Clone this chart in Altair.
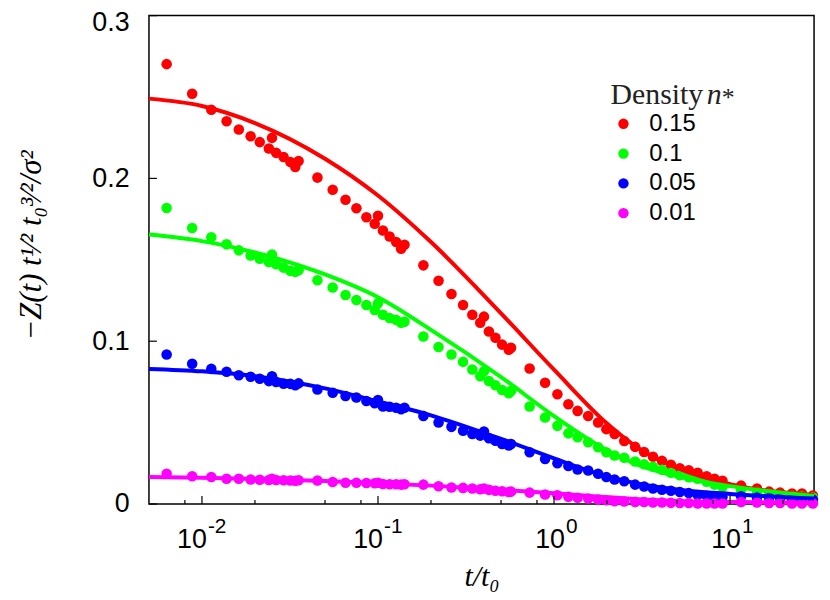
import altair as alt
import pandas as pd

# ---------------- data ----------------
densities = ["0.15", "0.1", "0.05", "0.01"]
colors = ["#ff0000", "#00ff00", "#0000ff", "#ff00ff"]

# simulation points (shared time grid)
t_sim = [0.0063, 0.0088, 0.0113, 0.0138, 0.0162, 0.0189, 0.0213, 0.0240, 0.0250, 0.0264,
         0.0291, 0.0318, 0.0339, 0.0354, 0.0453, 0.0553, 0.0654, 0.0754, 0.0859, 0.0958,
         0.100, 0.1067, 0.1164, 0.1268, 0.1353, 0.1414, 0.1811, 0.2208, 0.2615, 0.3043,
         0.3434, 0.3809, 0.400, 0.4266, 0.4647, 0.5070, 0.5532, 0.5700, 0.7266, 0.8896,
         1.045, 1.206, 1.361, 1.563, 1.780, 1.982, 2.208, 2.505, 2.889, 3.248,
         3.650, 4.104, 4.611, 5.184, 5.828, 6.548, 7.361, 8.166, 9.06, 11.55,
         14.22, 16.68, 19.24, 22.49, 25.61, 29.54]

z_sim_015 = [0.2702, 0.2520, 0.2422, 0.2351, 0.2300, 0.2259, 0.2223, 0.2184, 0.2249, 0.2157,
             0.2131, 0.2101, 0.2070, 0.2107, 0.2005, 0.1930, 0.1869, 0.1817, 0.1761, 0.1721,
             0.1771, 0.1680, 0.1643, 0.1609, 0.1568, 0.1593, 0.1466, 0.1371, 0.1290, 0.1223,
             0.1162, 0.1113, 0.1151, 0.1060, 0.1021, 0.0979, 0.0948, 0.0960, 0.0832, 0.0745,
             0.0674, 0.0613, 0.0572, 0.0541, 0.0501, 0.0460, 0.0430, 0.0387, 0.0351, 0.0320,
             0.0290, 0.0265, 0.0241, 0.0220, 0.0207, 0.0192, 0.0171, 0.0155, 0.0143, 0.0113,
             0.0095, 0.0076, 0.0070, 0.0064, 0.0064, 0.0052]

z_sim_010 = [0.1818, 0.1696, 0.1639, 0.1595, 0.1558, 0.1527, 0.1507, 0.1487, 0.1532, 0.1473,
             0.1452, 0.1432, 0.1426, 0.1436, 0.1375, 0.1330, 0.1284, 0.1253, 0.1223, 0.1192,
             0.1233, 0.1162, 0.1143, 0.1131, 0.1113, 0.1119, 0.1029, 0.0965, 0.0918, 0.0873,
             0.0826, 0.0785, 0.0816, 0.0755, 0.0730, 0.0700, 0.0680, 0.0694, 0.0599, 0.0532,
             0.0480, 0.0434, 0.0410, 0.0379, 0.0349, 0.0318, 0.0298, 0.0284, 0.0261, 0.0244,
             0.0229, 0.0210, 0.0192, 0.0177, 0.0165, 0.0155, 0.0137, 0.0119, 0.0104, 0.0084,
             0.0074, 0.0061, 0.0055, 0.0049, 0.0046, 0.0040]

z_sim_005 = [0.0918, 0.0861, 0.0830, 0.0812, 0.0791, 0.0782, 0.0770, 0.0755, 0.0785, 0.0749,
             0.0739, 0.0738, 0.0729, 0.0741, 0.0704, 0.0684, 0.0663, 0.0654, 0.0633, 0.0619,
             0.0639, 0.0599, 0.0598, 0.0591, 0.0582, 0.0591, 0.0541, 0.0501, 0.0474, 0.0450,
             0.0430, 0.0420, 0.0446, 0.0404, 0.0389, 0.0369, 0.0359, 0.0369, 0.0318, 0.0277,
             0.0251, 0.0233, 0.0212, 0.0206, 0.0186, 0.0166, 0.0151, 0.0140, 0.0119, 0.0107,
             0.0095, 0.0088, 0.0082, 0.0074, 0.0067, 0.0055, 0.0050, 0.0046, 0.0044, 0.0048,
             0.0040, 0.0037, 0.0034, 0.0030, 0.0030, 0.0027]

z_sim_001 = [0.0186, 0.0170, 0.0166, 0.0155, 0.0155, 0.0151, 0.0149, 0.0148, 0.0155, 0.0148,
             0.0146, 0.0145, 0.0143, 0.0146, 0.0145, 0.0135, 0.0131, 0.0131, 0.0129, 0.0127,
             0.0131, 0.0123, 0.0122, 0.0121, 0.0119, 0.0122, 0.0119, 0.0109, 0.0101, 0.0099,
             0.0095, 0.0091, 0.0095, 0.0087, 0.0082, 0.0078, 0.0074, 0.0076, 0.0070, 0.0058,
             0.0054, 0.0044, 0.0038, 0.0034, 0.0027, 0.0023, 0.0017, 0.0015, 0.0013, 0.0012,
             0.0009, 0.0009, 0.0007, 0.0006, 0.0006, 0.0003, 0.0003, 0.0003, 0.0003, 0.0012,
             0.0009, 0.0006, 0.0006, 0.0003, 0.0003, 0.0003]

# theory curves (read at a common set of times)
t_fit = [0.005, 0.01, 0.02, 0.05, 0.1, 0.2, 0.5, 1, 2, 3, 5, 10, 30]
z_fit_015 = [0.2490, 0.2445, 0.2340, 0.2121, 0.1895, 0.1609, 0.1171, 0.0825, 0.0494,
             0.0344, 0.0222, 0.0122, 0.0055]
z_fit_010 = [0.1655, 0.1615, 0.1545, 0.1410, 0.1270, 0.1070, 0.0780, 0.0540, 0.0330,
             0.0240, 0.0170, 0.0110, 0.0050]
z_fit_005 = [0.0830, 0.0815, 0.0785, 0.0710, 0.0630, 0.0545, 0.0400, 0.0280, 0.0170,
             0.0125, 0.0090, 0.0062, 0.0034]
z_fit_001 = [0.0166, 0.0161, 0.0154, 0.0142, 0.0128, 0.0113, 0.0088, 0.0066, 0.0042,
             0.0030, 0.0019, 0.0012, 0.0008]

x_major = [0.01, 0.1, 1, 10]
x_exps = ["-2", "-1", "0", "1"]
x_minor = [0.008, 0.02, 0.05, 0.08, 0.2, 0.5, 0.8, 2, 5, 8, 20]
y_ticks = [0, 0.1, 0.2, 0.3]

# ---------------- build ----------------
W, H = 670, 492

sim_series = [z_sim_015, z_sim_010, z_sim_005, z_sim_001]
fit_series = [z_fit_015, z_fit_010, z_fit_005, z_fit_001]

rows = []
for d, zs in zip(densities, sim_series):
    for t, z in zip(t_sim, zs):
        rows.append({"t": t, "z": z, "density": d})
pts = pd.DataFrame(rows)

rows = []
for k, (d, zs) in enumerate(zip(densities, fit_series)):
    for t, z in zip(t_fit, zs):
        rows.append({"t": t, "z": z, "density": d, "k": k})
fit = pd.DataFrame(rows)

xscale = alt.Scale(type="log", domain=[0.005, 30], nice=False)
yscale = alt.Scale(domain=[0, 0.3], nice=False, zero=False)
cscale = alt.Scale(domain=densities, range=colors)

x_axis = alt.Axis(title="t/t₀", labels=False, ticks=False, tickSize=0, domain=False, grid=False,
                  titleY=82, titleBaseline="alphabetic")
y_axis = alt.Axis(values=y_ticks, ticks=False, tickSize=0, domain=False, grid=False,
                  labelExpr="datum.value == 0 ? '0' : format(datum.value, '.1f')",
                  labelPadding=20, labelFlush=False, labelOverlap=False,
                  labelOffset={"condition": {"test": "datum.value >= 0.29", "value": 7},
                               "value": 0},
                  title="−Z(t) t¹⁄² t₀³⁄²/σ²",
                  titleAngle=270, titleX=-118, titleY=231,
                  titleAlign="center", titleBaseline="middle")

X = alt.X("t:Q", scale=xscale, axis=x_axis)
Y = alt.Y("z:Q", scale=yscale, axis=y_axis)

points = alt.Chart(pts).mark_circle(size=113, opacity=1).encode(
    x=X, y=Y,
    color=alt.Color("density:N", scale=cscale, sort=densities,
                    legend=alt.Legend(orient="none", legendX=466, legendY=97, title=None,
                                      symbolType="circle", symbolSize=110,
                                      symbolStrokeWidth=0,
                                      labelFont="Liberation Sans", labelFontSize=24,
                                      labelColor="black", labelOffset=14, rowPadding=6,
                                      padding=0)),
)

lines = alt.Chart(fit).mark_line(strokeWidth=4, interpolate="monotone").encode(
    x=X, y=Y,
    color=alt.Color("density:N", scale=cscale, legend=None),
    detail="k:N",
)

xmaj = alt.Chart(pd.DataFrame({"t": x_major})).mark_rule(color="black", strokeWidth=1.2).encode(
    x=X, y=alt.value(H), y2=alt.value(H - 8))
xmin = alt.Chart(pd.DataFrame({"t": x_minor})).mark_rule(color="black", strokeWidth=1.2).encode(
    x=X, y=alt.value(H), y2=alt.value(H - 4))
ytk = alt.Chart(pd.DataFrame({"z": y_ticks})).mark_rule(color="black", strokeWidth=1.2).encode(
    y=Y, x=alt.value(0), x2=alt.value(8))

label_layers = []
dxs = [5, 5, 11, 11]
for v, e, dx in zip(x_major, x_exps, dxs):
    df1 = pd.DataFrame({"t": [v], "e": [e]})
    label_layers.append(
        alt.Chart(df1).mark_text(text="10", align="right", baseline="alphabetic", dx=dx,
                                 font="Liberation Sans", fontSize=27, color="black").encode(
            x=X, y=alt.value(H + 44.5)))
    label_layers.append(
        alt.Chart(df1).mark_text(align="left", baseline="alphabetic", dx=dx + 1,
                                 font="Liberation Sans", fontSize=21, color="black").encode(
            x=X, y=alt.value(H + 29.5), text="e:N"))

one = pd.DataFrame({"a": [0]})
leg_title1 = alt.Chart(one).mark_text(text="Density", align="left", baseline="alphabetic",
                                      font="Liberation Serif", fontSize=30, color="#222222").encode(
    x=alt.value(465), y=alt.value(89.5))
leg_title2 = alt.Chart(one).mark_text(text="n", align="left", baseline="alphabetic",
                                      font="Liberation Serif", fontStyle="italic",
                                      fontSize=30, color="#222222").encode(
    x=alt.value(562), y=alt.value(89.5))
leg_title3 = alt.Chart(one).mark_text(text="*", align="left", baseline="alphabetic",
                                      font="Liberation Serif", fontSize=26, color="#222222").encode(
    x=alt.value(577), y=alt.value(91))

chart = alt.layer(points, lines, xmaj, xmin, ytk, *label_layers,
                  leg_title1, leg_title2, leg_title3).properties(
    width=W, height=H,
    padding={"left": 142, "top": 5.5, "right": 8, "bottom": 92},
    autosize=alt.AutoSizeParams(type="none"),
    background="white",
).configure_view(stroke="black", strokeWidth=1.5, fill=None
).configure_axis(
    labelFont="Liberation Sans", labelFontSize=27, labelColor="black",
    titleFont="Liberation Serif", titleFontStyle="italic", titleFontWeight="normal",
    titleColor="black"
).configure_axisX(titleFontSize=30
).configure_axisY(titleFontSize=31)

chart.save("out.html", embed_options={"renderer": "svg", "actions": False})
